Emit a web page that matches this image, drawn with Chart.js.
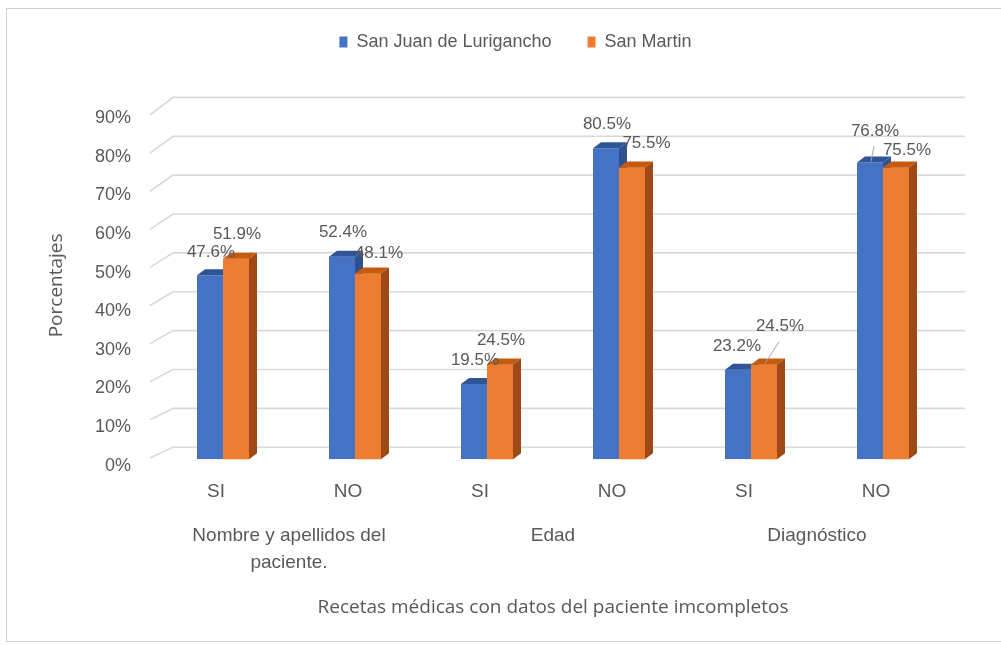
<!DOCTYPE html>
<html>
<head>
<meta charset="utf-8">
<script src="https://cdn.jsdelivr.net/npm/chart.js@4.4.1/dist/chart.umd.min.js"></script>
<style>
  html, body { margin: 0; padding: 0; background: #ffffff; }
  canvas { display: block; }
</style>
</head>
<body>
<canvas id="chart" width="1001" height="645"></canvas>
<script>
// ---- data ----
const categories = ['SI', 'NO', 'SI', 'NO', 'SI', 'NO'];
const groupLabels = [['Nombre y apellidos del', 'paciente.'], 'Edad', 'Diagnóstico'];
const seriesNames = ['San Juan de Lurigancho', 'San Martin'];
const sanJuanValues = [47.6, 52.4, 19.5, 80.5, 23.2, 76.8];
const sanMartinValues = [51.9, 48.1, 24.5, 75.5, 24.5, 75.5];
const yTickValues = [0, 10, 20, 30, 40, 50, 60, 70, 80, 90];
const yTickLabels = ['0%', '10%', '20%', '30%', '40%', '50%', '60%', '70%', '80%', '90%'];
const yTitle = 'Porcentajes';
const xTitle = 'Recetas médicas con datos del paciente imcompletos';

// ---- styling ----
const TEXT = '#595959';
const SANS = '"Liberation Sans", Arial, sans-serif';
const TITLE_FONT = '"Open Sans", "Liberation Sans", sans-serif';
const frontColors = ['#4472C4', '#ED7D31'];
const faceColors = [
  { top: '#2F5597', side: '#2F528F' },
  { top: '#C55A11', side: '#9E4A16' }
];
const DEPTH = { dx: 8, dy: 6 };
// label placement relative to the top of each bar: [dx, dy, leader line]
const labelNudge = [
  [[1, -23, false], [1, -24, false], [1, -24, false], [1, -23.5, false], [-1, -23, false], [5, -31.5, true]],
  [[1, -24, false], [11, -20, false], [1, -24, false], [14.5, -24, false], [16, -38, true], [11, -17, false]]
];

// white page with thin outer frame
const framePlugin = {
  id: 'frame',
  beforeDraw(chart) {
    const ctx = chart.ctx;
    ctx.save();
    ctx.fillStyle = '#ffffff';
    ctx.fillRect(0, 0, chart.width, chart.height);
    ctx.strokeStyle = '#d0d0d0';
    ctx.lineWidth = 1;
    ctx.strokeRect(6.5, 8.5, chart.width + 20, chart.height - 12);
    ctx.restore();
  }
};

// back wall grid lines with a short receding floor segment
const wallPlugin = {
  id: 'wall',
  beforeDatasetsDraw(chart) {
    const { ctx, chartArea: a, scales: { y } } = chart;
    ctx.save();
    ctx.strokeStyle = '#d9d9d9';
    ctx.lineWidth = 1.6;
    y.ticks.forEach(t => {
      const p = y.getPixelForValue(t.value);
      const k = t.value / y.max;
      const fy = p - 1.3 + 4.8 * k;
      const by = p - 12 - 2.1 * k;
      ctx.beginPath();
      ctx.moveTo(a.left - 7, fy);
      ctx.lineTo(a.left + 16, by);
      ctx.lineTo(a.right + 16, by);
      ctx.stroke();
    });
    ctx.restore();
  }
};

// top and side faces for every bar, series drawn left to right
const bars3dPlugin = {
  id: 'bars3d',
  afterDatasetsDraw(chart) {
    const ctx = chart.ctx;
    const { dx, dy } = DEPTH;
    chart.data.datasets.forEach((ds, di) => {
      const meta = chart.getDatasetMeta(di);
      meta.data.forEach(bar => {
        if (di > 0) bar.draw(ctx);
        const { x, y, base, width } = bar.getProps(['x', 'y', 'base', 'width'], true);
        const l = x - width / 2, r = x + width / 2;
        ctx.save();
        ctx.fillStyle = faceColors[di].top;
        ctx.beginPath();
        ctx.moveTo(l, y); ctx.lineTo(l + dx, y - dy); ctx.lineTo(r + dx, y - dy); ctx.lineTo(r, y);
        ctx.closePath(); ctx.fill();
        ctx.fillStyle = faceColors[di].side;
        ctx.beginPath();
        ctx.moveTo(r, y); ctx.lineTo(r + dx, y - dy); ctx.lineTo(r + dx, base - dy); ctx.lineTo(r, base);
        ctx.closePath(); ctx.fill();
        ctx.restore();
      });
    });
  }
};

// value labels above the bars
const valueLabelPlugin = {
  id: 'valueLabels',
  afterDatasetsDraw(chart) {
    const ctx = chart.ctx;
    ctx.save();
    ctx.font = '17px ' + SANS;
    ctx.fillStyle = TEXT;
    ctx.textAlign = 'center';
    ctx.textBaseline = 'middle';
    chart.data.datasets.forEach((ds, di) => {
      const meta = chart.getDatasetMeta(di);
      meta.data.forEach((bar, i) => {
        const [ndx, ndy, leader] = labelNudge[di][i];
        const lx = bar.x + ndx, ly = bar.y + ndy;
        if (leader) {
          ctx.strokeStyle = '#a6a6a6';
          ctx.lineWidth = 1;
          ctx.beginPath();
          ctx.moveTo(lx - 1, ly + 15);
          ctx.lineTo(bar.x + 1, bar.y - 1);
          ctx.stroke();
        }
        ctx.fillText(ds.data[i].toFixed(1) + '%', lx, ly);
      });
    });
    ctx.restore();
  }
};

// fixed legend band height so the plot starts at the right place
const legendBandPlugin = {
  id: 'legendBand',
  beforeInit(chart) {
    const fit = chart.legend.fit;
    chart.legend.fit = function () {
      fit.call(this);
      this.height = 114.5;
    };
  }
};

new Chart(document.getElementById('chart'), {
  type: 'bar',
  data: {
    labels: categories,
    datasets: [
      { label: seriesNames[0], data: sanJuanValues, backgroundColor: frontColors[0], borderWidth: 0,
        categoryPercentage: 52 / 132, barPercentage: 1 },
      { label: seriesNames[1], data: sanMartinValues, backgroundColor: frontColors[1], borderWidth: 0,
        categoryPercentage: 52 / 132, barPercentage: 1 }
    ]
  },
  options: {
    responsive: false,
    animation: false,
    devicePixelRatio: 1,
    layout: { padding: { top: -3, left: 30, right: 0, bottom: 0 } },
    plugins: {
      tooltip: { enabled: false },
      legend: {
        position: 'top',
        labels: {
          color: TEXT,
          font: { family: SANS, size: 18 },
          boxWidth: 8,
          boxHeight: 11,
          padding: 36
        }
      }
    },
    scales: {
      x: {
        type: 'category',
        offset: true,
        weight: 0,
        grid: { display: false, drawTicks: false },
        border: { display: false },
        ticks: { color: TEXT, font: { family: SANS, size: 19 }, padding: 21, labelOffset: -7,
                 maxRotation: 0, autoSkip: false },
        afterFit(s) { s.height = 43.8; }
      },
      x2: {
        type: 'category',
        position: 'bottom',
        labels: groupLabels,
        offset: true,
        weight: 1,
        grid: { display: false, drawTicks: false },
        border: { display: false },
        ticks: { color: TEXT, font: { family: SANS, size: 19, lineHeight: 27 / 19 }, padding: 19.4,
                 maxRotation: 0, autoSkip: false },
        title: { display: true, text: xTitle, color: TEXT,
                 font: { family: TITLE_FONT, size: 19 }, padding: { top: 20, bottom: 25.7 } },
        afterFit(s) { s.height = 141.9; }
      },
      y: {
        min: 0,
        max: 90,
        grid: { display: false, drawTicks: false },
        border: { display: false },
        ticks: {
          stepSize: 10,
          color: TEXT,
          font: { family: SANS, size: 18 },
          padding: 26,
          labelOffset: 6.5,
          callback: (v) => yTickLabels[yTickValues.indexOf(v)]
        },
        title: { display: true, text: yTitle, color: TEXT,
                 font: { family: TITLE_FONT, size: 19 }, padding: { top: 15.6, bottom: 0 } },
        afterFit(s) { s.width = 127; }
      },
      yRight: {
        type: 'linear',
        position: 'right',
        grid: { display: false, drawTicks: false },
        border: { display: false },
        ticks: { display: false },
        afterFit(s) { s.width = 52; }
      }
    }
  },
  plugins: [framePlugin, legendBandPlugin, wallPlugin, bars3dPlugin, valueLabelPlugin]
});
</script>
</body>
</html>
